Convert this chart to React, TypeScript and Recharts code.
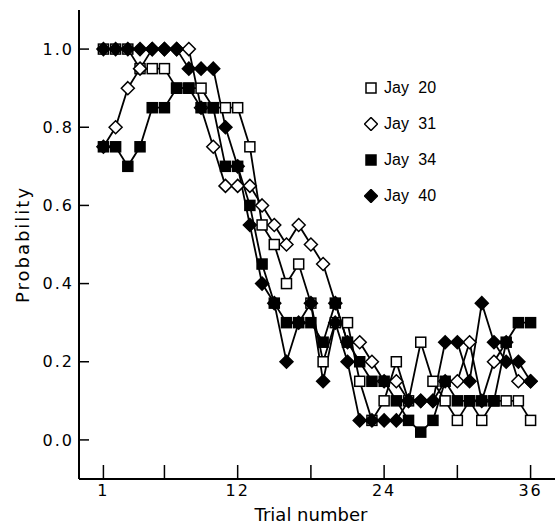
import { LineChart, Line, XAxis, YAxis, Legend, Label } from "recharts";

const trials = [
  1, 2, 3, 4, 5, 6, 7, 8, 9, 10, 11, 12, 13, 14, 15, 16, 17, 18,
  19, 20, 21, 22, 23, 24, 25, 26, 27, 28, 29, 30, 31, 32, 33, 34, 35, 36,
];

const jay20 = [
  1.0, 1.0, 1.0, 0.95, 0.95, 0.95, 0.9, 0.9, 0.9, 0.85, 0.85, 0.85, 0.75, 0.55, 0.5, 0.4, 0.45, 0.35,
  0.2, 0.3, 0.3, 0.15, 0.05, 0.1, 0.2, 0.1, 0.25, 0.15, 0.1, 0.05, 0.1, 0.05, 0.1, 0.1, 0.1, 0.05,
];
const jay31 = [
  0.75, 0.8, 0.9, 0.95, 1.0, 1.0, 1.0, 1.0, 0.85, 0.75, 0.65, 0.65, 0.65, 0.6, 0.55, 0.5, 0.55, 0.5,
  0.45, 0.35, 0.25, 0.25, 0.2, 0.15, 0.15, 0.1, 0.1, 0.1, 0.15, 0.15, 0.25, 0.1, 0.2, 0.25, 0.15, 0.15,
];
const jay34 = [
  0.75, 0.75, 0.7, 0.75, 0.85, 0.85, 0.9, 0.9, 0.85, 0.85, 0.7, 0.7, 0.6, 0.45, 0.35, 0.3, 0.3, 0.3,
  0.25, 0.35, 0.25, 0.2, 0.15, 0.15, 0.1, 0.05, 0.02, 0.05, 0.15, 0.1, 0.1, 0.1, 0.1, 0.25, 0.3, 0.3,
];
const jay40 = [
  1.0, 1.0, 1.0, 1.0, 1.0, 1.0, 1.0, 0.95, 0.95, 0.95, 0.8, 0.7, 0.55, 0.4, 0.35, 0.2, 0.3, 0.35,
  0.15, 0.3, 0.2, 0.05, 0.05, 0.05, 0.05, 0.1, 0.1, 0.1, 0.25, 0.25, 0.15, 0.35, 0.25, 0.2, 0.2, 0.15,
];

const xTicks = [1, 6, 12, 18, 24, 30, 36];
const xLabels = [1, 12, 24, 36];
const yTicks = [0, 0.2, 0.4, 0.6, 0.8, 1.0];

const data = trials.map((t, i) => ({
  trial: t,
  jay20: jay20[i],
  jay31: jay31[i],
  jay34: jay34[i],
  jay40: jay40[i],
}));

const font = "'DejaVu Sans', Verdana, sans-serif";
const legendFont = "'Liberation Sans', Arial, sans-serif";

type Shape = "openSquare" | "openDiamond" | "square" | "diamond";

function Marker({ shape, cx, cy }: { shape: Shape; cx: number; cy: number }) {
  const filled = shape === "square" || shape === "diamond";
  const fill = filled ? "#000" : "#fff";
  if (shape === "openSquare" || shape === "square") {
    return <rect x={cx - 5} y={cy - 5} width={10} height={10} fill={fill} stroke="#000" strokeWidth={1.5} />;
  }
  return (
    <polygon
      points={`${cx},${cy - 6.5} ${cx + 6.5},${cy} ${cx},${cy + 6.5} ${cx - 6.5},${cy}`}
      fill={fill}
      stroke="#000"
      strokeWidth={1.5}
    />
  );
}

const dotFor = (shape: Shape) => (props: any) => (
  <Marker key={`${shape}-${props.index}`} shape={shape} cx={props.cx} cy={props.cy} />
);

const legendItems: { name: string; shape: Shape }[] = [
  { name: "Jay 20", shape: "openSquare" },
  { name: "Jay 31", shape: "openDiamond" },
  { name: "Jay 34", shape: "square" },
  { name: "Jay 40", shape: "diamond" },
];

function LegendBox() {
  return (
    <div style={{ fontFamily: legendFont, fontSize: 16, color: "#000" }}>
      {legendItems.map((it) => (
        <div key={it.name} style={{ display: "flex", alignItems: "center", height: 36 }}>
          <svg width={14} height={14}>
            <Marker shape={it.shape} cx={7} cy={7} />
          </svg>
          <span style={{ marginLeft: 6, wordSpacing: 5 }}>{it.name}</span>
        </div>
      ))}
    </div>
  );
}

const axisLine = { stroke: "#000", strokeWidth: 2 };
const tickLine = { stroke: "#000", strokeWidth: 1.5 };
const tickStyle = { fill: "#000", fontSize: 16, fontFamily: font, letterSpacing: 2 };

export default function App() {
  return (
    <div style={{ position: "absolute", left: 0, top: 0, width: 557, height: 524, background: "#fff" }}>
      <LineChart width={557} height={524} data={data} margin={{ top: 10, right: 2, bottom: 0, left: 0 }}>
        <XAxis
          xAxisId="bottom"
          dataKey="trial"
          type="number"
          domain={[-1, 38]}
          ticks={xTicks}
          allowDataOverflow
          height={45}
          tickSize={-14}
          tickMargin={20}
          tickFormatter={(v: number) => (xLabels.includes(v) ? String(v) : "")}
          axisLine={axisLine}
          tickLine={tickLine}
          tick={tickStyle}
        >
          <Label value="Trial number" position="insideBottom" offset={3} dx={-6} style={{ fill: "#000", fontSize: 18, fontFamily: font }} />
        </XAxis>
        <XAxis
          xAxisId="top"
          orientation="top"
          dataKey="trial"
          type="number"
          domain={[-1, 38]}
          ticks={xTicks}
          allowDataOverflow
          height={0}
          tickSize={-14}
          tickFormatter={() => ""}
          axisLine={axisLine}
          tickLine={tickLine}
        />
        <YAxis
          yAxisId="left"
          type="number"
          domain={[-0.1, 1.1]}
          ticks={yTicks}
          allowDataOverflow
          width={79}
          tickSize={-10}
          tickMargin={15}
          tickFormatter={(v: number) => v.toFixed(1)}
          axisLine={axisLine}
          tickLine={tickLine}
          tick={tickStyle}
        >
          <Label value="Probability" angle={-90} position="center" dx={-17} style={{ fill: "#000", fontSize: 18, fontFamily: font, letterSpacing: 2 }} />
        </YAxis>
        <YAxis
          yAxisId="right"
          orientation="right"
          type="number"
          domain={[-0.1, 1.1]}
          ticks={yTicks}
          allowDataOverflow
          width={0}
          tickSize={-10}
          tickFormatter={() => ""}
          axisLine={axisLine}
          tickLine={tickLine}
        />
        <Legend
          layout="horizontal"
          verticalAlign="middle"
          align="center"
          content={() => <LegendBox />}
          wrapperStyle={{ position: "absolute", left: 364, top: 70, width: 120 }}
        />
        <Line xAxisId="bottom" yAxisId="left" dataKey="jay20" name="Jay 20" stroke="#000" strokeWidth={1.8} dot={dotFor("openSquare")} isAnimationActive={false} />
        <Line xAxisId="bottom" yAxisId="left" dataKey="jay31" name="Jay 31" stroke="#000" strokeWidth={1.8} dot={dotFor("openDiamond")} isAnimationActive={false} />
        <Line xAxisId="bottom" yAxisId="left" dataKey="jay40" name="Jay 40" stroke="#000" strokeWidth={1.8} dot={dotFor("diamond")} isAnimationActive={false} />
        <Line xAxisId="bottom" yAxisId="left" dataKey="jay34" name="Jay 34" stroke="#000" strokeWidth={1.8} dot={dotFor("square")} isAnimationActive={false} />
      </LineChart>
    </div>
  );
}
